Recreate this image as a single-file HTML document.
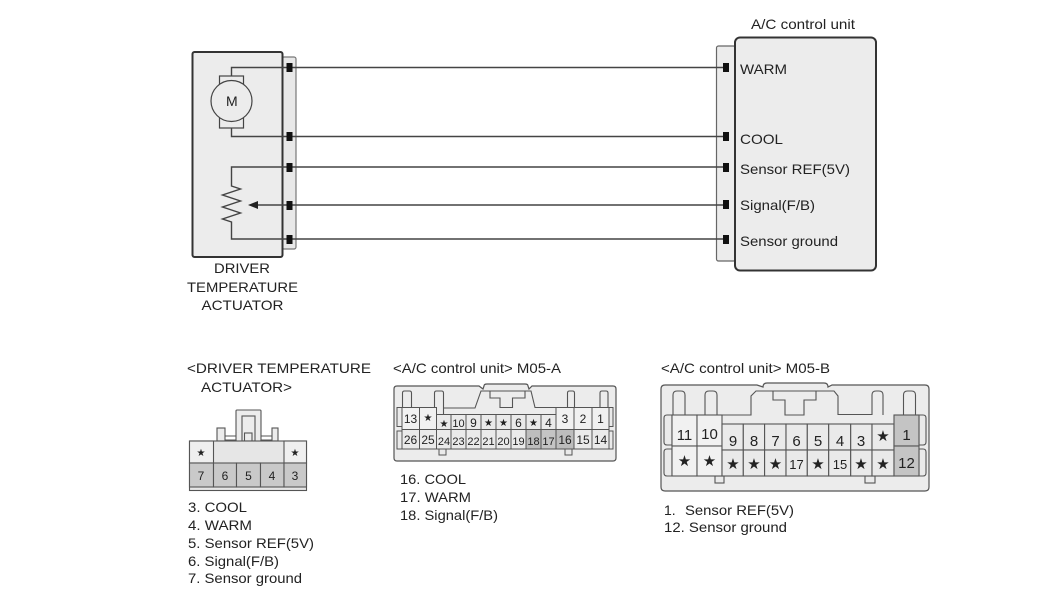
<!DOCTYPE html>
<html><head><meta charset="utf-8"><style>
html,body{margin:0;padding:0;background:#fff}
svg{display:block;filter:blur(.35px)}
text{font-family:"Liberation Sans",sans-serif;font-size:14px;fill:#222}
.c text{text-anchor:middle}
</style></head><body>
<svg width="1050" height="600" viewBox="0 0 1050 600" xmlns="http://www.w3.org/2000/svg">
<!-- left unit -->
<rect x="282" y="57" width="14" height="192" rx="2" fill="#e8e8e8" stroke="#777" stroke-width="1.2"/>
<rect x="192.500" y="52" width="90" height="205" rx="2" fill="#ececec" stroke="#333" stroke-width="2"/>
<!-- right unit -->
<rect x="716.500" y="46" width="19" height="215" rx="2" fill="#ececec" stroke="#666" stroke-width="1.2"/>
<rect x="735" y="37.500" width="141" height="233" rx="5" fill="#ececec" stroke="#333" stroke-width="2"/>
<!-- wires -->
<g fill="none" stroke="#444" stroke-width="1.4">
<path d="M231.500 76V67.500H726"/>
<path d="M231.500 128V136.500H726"/>
<path d="M289 167H231.500V186l9 3-18 6 18 6-18 6 18 6-18 6 9 3V239H289"/>
<path d="M289 167H726"/>
<path d="M726 205H252"/>
<path d="M289 239H726"/>
</g>
<path d="M248 205l10-4v8z" fill="#222"/>
<!-- motor -->
<g fill="#ececec" stroke="#444" stroke-width="1.2">
<rect x="219.500" y="76" width="24" height="52"/>
<circle cx="231.500" cy="101" r="20.500"/>
</g>
<text x="226" y="106">M</text>
<!-- pins -->
<g fill="#111">
<rect x="286.500" y="63" width="6" height="9"/><rect x="286.500" y="132" width="6" height="9"/><rect x="286.500" y="163" width="6" height="9"/><rect x="286.500" y="201" width="6" height="9"/><rect x="286.500" y="235" width="6" height="9"/>
<rect x="723" y="63" width="6" height="9"/><rect x="723" y="132" width="6" height="9"/><rect x="723" y="163" width="6" height="9"/><rect x="723" y="200" width="6" height="9"/><rect x="723" y="235" width="6" height="9"/>
</g>
<text x="751" y="29" textLength="104" lengthAdjust="spacingAndGlyphs">A/C control unit</text>
<text x="740" y="74" textLength="47" lengthAdjust="spacingAndGlyphs">WARM</text>
<text x="740" y="144" textLength="43" lengthAdjust="spacingAndGlyphs">COOL</text>
<text x="740" y="174" textLength="110" lengthAdjust="spacingAndGlyphs">Sensor REF(5V)</text>
<text x="740" y="210" textLength="75" lengthAdjust="spacingAndGlyphs">Signal(F/B)</text>
<text x="740" y="246" textLength="98" lengthAdjust="spacingAndGlyphs">Sensor ground</text>
<text x="214" y="273" textLength="56" lengthAdjust="spacingAndGlyphs">DRIVER</text>
<text x="187" y="292" textLength="111" lengthAdjust="spacingAndGlyphs">TEMPERATURE</text>
<text x="201.500" y="310" textLength="82" lengthAdjust="spacingAndGlyphs">ACTUATOR</text>
<!-- section headings -->
<text x="187" y="373" textLength="184" lengthAdjust="spacingAndGlyphs">&lt;DRIVER TEMPERATURE</text>
<text x="201" y="392" textLength="91" lengthAdjust="spacingAndGlyphs">ACTUATOR&gt;</text>
<text x="393" y="373" textLength="168" lengthAdjust="spacingAndGlyphs">&lt;A/C control unit&gt; M05-A</text>
<text x="661" y="373" textLength="169" lengthAdjust="spacingAndGlyphs">&lt;A/C control unit&gt; M05-B</text>

<!-- connector 1 -->
<g stroke="#555" stroke-width="1.1" fill="#ececec">
<rect x="217" y="428" width="8" height="13"/><rect x="272" y="428" width="6" height="13"/>
<path d="M225 436h11M225 440h11M261 436h11M261 440h11" fill="none"/>
<rect x="236" y="410" width="25" height="31" rx="1"/>
<rect x="242" y="416" width="13" height="25"/>
<rect x="244.500" y="433" width="7.500" height="8"/>
<rect x="189.500" y="441" width="117" height="49.500" fill="#e6e6e6"/>
<rect x="189.500" y="441" width="24" height="22" fill="#efefef"/>
<rect x="284" y="441" width="22.500" height="22" fill="#efefef"/>
<g fill="#c9c9c9">
<rect x="189.500" y="463" width="24" height="24"/><rect x="213.500" y="463" width="23" height="24"/><rect x="236.500" y="463" width="24" height="24"/><rect x="260.500" y="463" width="23.500" height="24"/><rect x="284" y="463" width="22.500" height="24"/>
</g>
</g>
<g class="c">
<text x="201" y="456" style="font-size:10px">★</text><text x="295" y="456" style="font-size:10px">★</text>
<text x="201" y="480" style="font-size:12px">7</text><text x="225" y="480" style="font-size:12px">6</text><text x="248.500" y="480" style="font-size:12px">5</text><text x="272" y="480" style="font-size:12px">4</text><text x="295" y="480" style="font-size:12px">3</text>
</g>

<!-- connector A -->
<path d="M479 386H397q-3 0-3 3V458q0 3 3 3H613q3 0 3-3V389q0-3-3-3H532l-3 3-1-3q0-2-3-2H487q-3 0-3 2l-1 3z" fill="#ececec" stroke="#555" stroke-width="1.2"/>
<g fill="none" stroke="#555" stroke-width="1.1">
<path d="M402.500 407V393q0-2 2-2h5q2 0 2 2V407"/>
<path d="M434.500 407V393q0-2 2-2h5q2 0 2 2V414"/>
<path d="M567.500 407V393q0-2 2-2h3q2 0 2 2V407"/>
<path d="M600 407V393q0-2 2-2h4q2 0 2 2V407"/>
<path d="M443 408H475L481 391H531L535 407.500H556"/>
<path d="M490 391V398H500V407.500H512.500V398H525V391"/>
</g>
<g stroke="#555" stroke-width="1" fill="#eaeaea">
<rect x="439" y="449" width="7" height="6"/><rect x="565" y="449" width="7" height="6"/>
<rect x="397" y="407.500" width="5" height="19"/><rect x="397" y="431" width="5" height="18"/><rect x="609" y="407.500" width="4" height="19"/><rect x="609" y="431" width="4" height="18"/>
<rect x="402" y="407.500" width="17.500" height="22" fill="#f1f1f1"/><rect x="419.500" y="407.500" width="17" height="22" fill="#f1f1f1"/>
<rect x="436.500" y="414.500" width="14.500" height="15"/><rect x="451" y="414.500" width="15" height="15"/><rect x="466" y="414.500" width="15" height="15"/><rect x="481" y="414.500" width="15" height="15"/><rect x="496" y="414.500" width="15" height="15"/><rect x="511" y="414.500" width="15" height="15"/><rect x="526" y="414.500" width="15" height="15"/><rect x="541" y="414.500" width="15" height="15"/>
<rect x="556" y="407.500" width="18" height="22" fill="#f1f1f1"/><rect x="574" y="407.500" width="18" height="22" fill="#f1f1f1"/><rect x="592" y="407.500" width="17" height="22" fill="#f1f1f1"/>
<rect x="402" y="429.500" width="17.500" height="19.500"/><rect x="419.500" y="429.500" width="17" height="19.500"/>
<rect x="436.500" y="429.500" width="14.500" height="19.500"/><rect x="451" y="429.500" width="15" height="19.500"/><rect x="466" y="429.500" width="15" height="19.500"/><rect x="481" y="429.500" width="15" height="19.500"/><rect x="496" y="429.500" width="15" height="19.500"/><rect x="511" y="429.500" width="15" height="19.500"/>
<rect x="526" y="429.500" width="15" height="19.500" fill="#bdbdbd"/><rect x="541" y="429.500" width="15" height="19.500" fill="#c4c4c4"/>
<rect x="556" y="429.500" width="18" height="19.500" fill="#bdbdbd"/><rect x="574" y="429.500" width="18" height="19.500"/><rect x="592" y="429.500" width="17" height="19.500"/>
</g>
<g class="c">
<text x="410.500" y="423" style="font-size:12px">13</text><text x="428" y="421" style="font-size:10px">★</text>
<text x="444" y="427" style="font-size:10px">★</text><text x="458.500" y="427" style="font-size:11px">10</text><text x="473.500" y="427" style="font-size:12px">9</text><text x="488.500" y="426" style="font-size:10px">★</text><text x="503.500" y="426" style="font-size:10px">★</text><text x="518.500" y="427" style="font-size:12px">6</text><text x="533.500" y="426" style="font-size:10px">★</text><text x="548.500" y="427" style="font-size:12px">4</text>
<text x="565" y="423" style="font-size:12px">3</text><text x="583" y="423" style="font-size:12px">2</text><text x="600.500" y="423" style="font-size:12px">1</text>
<text x="410.500" y="444" style="font-size:12px">26</text><text x="428" y="444" style="font-size:12px">25</text>
<text x="444" y="445" style="font-size:11px">24</text><text x="458.500" y="445" style="font-size:11px">23</text><text x="473.500" y="445" style="font-size:11px">22</text><text x="488.500" y="445" style="font-size:11px">21</text><text x="503.500" y="445" style="font-size:11px">20</text><text x="518.500" y="445" style="font-size:11px">19</text><text x="533.500" y="445" style="font-size:11px">18</text><text x="548.500" y="445" style="font-size:11px">17</text>
<text x="565" y="444" style="font-size:12px">16</text><text x="583" y="444" style="font-size:12px">15</text><text x="600.500" y="444" style="font-size:12px">14</text>
</g>

<!-- connector B -->
<path d="M757 385H665q-4 0-4 4V487q0 4 4 4H925q4 0 4-4V389q0-4-4-4H832l-4 2q0-4-4-4H767q-4 0-4 4z" fill="#ececec" stroke="#555" stroke-width="1.2"/>
<g fill="none" stroke="#555" stroke-width="1.1">
<path d="M673 415V395q0-4 4-4h4q4 0 4 4V415"/>
<path d="M705 415V395q0-4 4-4h4q4 0 4 4V415"/>
<path d="M872 415V395q0-4 4-4h3q4 0 4 4V415"/>
<path d="M903.500 415V395q0-4 4-4h4q4 0 4 4V415"/>
<path d="M717.500 415H751V396l5-5H834l4 5V414.500H872"/>
<path d="M773 391V400H785V415H804V400H816V391"/>
</g>
<g stroke="#555" stroke-width="1.1" fill="#eaeaea">
<rect x="715" y="476" width="9" height="7"/><rect x="865" y="476" width="10" height="7"/>
<path d="M672 415H667q-3 0-3 3V442q0 3 3 3H672zM672 449H667q-3 0-3 3V473q0 3 3 3H672zM919 415H923q3 0 3 3V442q0 3 -3 3H919zM919 449H923q3 0 3 3V473q0 3 -3 3H919z"/>
<rect x="672" y="415" width="25" height="31" fill="#f1f1f1"/><rect x="697" y="415" width="25" height="31" fill="#f1f1f1"/>
<rect x="672" y="446" width="25" height="30" fill="#f1f1f1"/><rect x="697" y="446" width="25" height="30" fill="#f1f1f1"/>
<rect x="722" y="424" width="21.300" height="26"/><rect x="743.300" y="424" width="21.300" height="26"/><rect x="764.600" y="424" width="21.400" height="26"/><rect x="786" y="424" width="21.300" height="26"/><rect x="807.300" y="424" width="21.400" height="26"/><rect x="828.700" y="424" width="22" height="26"/><rect x="850.700" y="424" width="21.300" height="26"/><rect x="872" y="424" width="22" height="26"/>
<rect x="722" y="450" width="21.300" height="26"/><rect x="743.300" y="450" width="21.300" height="26"/><rect x="764.600" y="450" width="21.400" height="26"/><rect x="786" y="450" width="21.300" height="26"/><rect x="807.300" y="450" width="21.400" height="26"/><rect x="828.700" y="450" width="22" height="26"/><rect x="850.700" y="450" width="21.300" height="26"/><rect x="872" y="450" width="22" height="26"/>
<rect x="894" y="415" width="25" height="31" fill="#c4c4c4"/><rect x="894" y="446" width="25" height="30" fill="#c4c4c4"/>
</g>
<g class="c">
<text x="684.500" y="440" style="font-size:15px">11</text><text x="709.500" y="439" style="font-size:15px">10</text>
<text x="733" y="446" style="font-size:15px">9</text><text x="754" y="446" style="font-size:15px">8</text><text x="775.500" y="446" style="font-size:15px">7</text><text x="796.500" y="446" style="font-size:15px">6</text><text x="818" y="446" style="font-size:15px">5</text><text x="840" y="446" style="font-size:15px">4</text><text x="861" y="446" style="font-size:15px">3</text><text x="883" y="441" style="font-size:15px">★</text>
<text x="906.500" y="440" style="font-size:15px">1</text>
<text x="684.500" y="466" style="font-size:15px">★</text><text x="709.500" y="466" style="font-size:15px">★</text>
<text x="733" y="469" style="font-size:15px">★</text><text x="754" y="469" style="font-size:15px">★</text><text x="775.500" y="469" style="font-size:15px">★</text><text x="796.500" y="469" style="font-size:13px">17</text><text x="818" y="469" style="font-size:15px">★</text><text x="840" y="469" style="font-size:13px">15</text><text x="861" y="469" style="font-size:15px">★</text><text x="883" y="469" style="font-size:15px">★</text>
<text x="906.500" y="468" style="font-size:15px">12</text>
</g>

<!-- legends -->
<text x="188" y="512" textLength="59" lengthAdjust="spacingAndGlyphs">3. COOL</text>
<text x="188" y="530" textLength="64" lengthAdjust="spacingAndGlyphs">4. WARM</text>
<text x="188" y="548" textLength="126" lengthAdjust="spacingAndGlyphs">5. Sensor REF(5V)</text>
<text x="188" y="566" textLength="91" lengthAdjust="spacingAndGlyphs">6. Signal(F/B)</text>
<text x="188" y="583" textLength="114" lengthAdjust="spacingAndGlyphs">7. Sensor ground</text>
<text x="400" y="484" textLength="66" lengthAdjust="spacingAndGlyphs">16. COOL</text>
<text x="400" y="502" textLength="71" lengthAdjust="spacingAndGlyphs">17. WARM</text>
<text x="400" y="520" textLength="98" lengthAdjust="spacingAndGlyphs">18. Signal(F/B)</text>
<text x="664" y="515">1.</text>
<text x="685" y="515" textLength="109" lengthAdjust="spacingAndGlyphs">Sensor REF(5V)</text>
<text x="664" y="532" textLength="123" lengthAdjust="spacingAndGlyphs">12. Sensor ground</text>
</svg>
</body></html>
